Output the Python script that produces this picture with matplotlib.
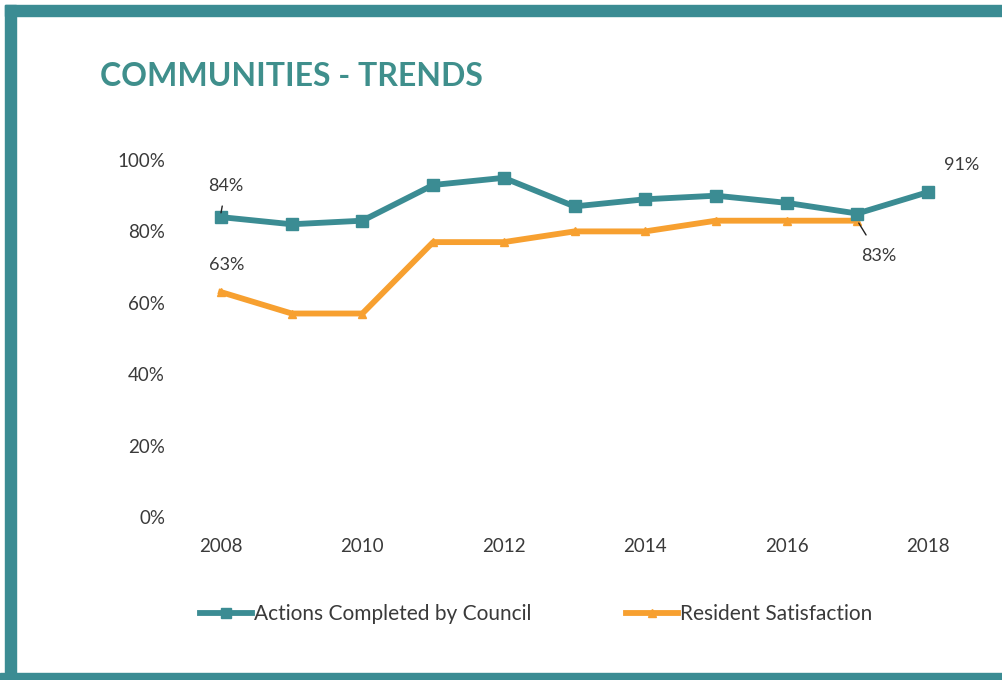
import matplotlib
matplotlib.use("Agg")
import matplotlib.pyplot as plt
from matplotlib.patches import Rectangle

years = [2008, 2009, 2010, 2011, 2012, 2013, 2014, 2015, 2016, 2017, 2018]
actions = [84, 82, 83, 93, 95, 87, 89, 90, 88, 85, 91]
sat_years = [2008, 2009, 2010, 2011, 2012, 2013, 2014, 2015, 2016, 2017]
satisfaction = [63, 57, 57, 77, 77, 80, 80, 83, 83, 83]
y_ticks = [0, 20, 40, 60, 80, 100]
x_ticks = [2008, 2010, 2012, 2014, 2016, 2018]

TEAL = "#3b8c93"
ORANGE = "#f7a030"
TEXT = "#3a3a3a"
FONT = "Lato"

W, H = 1002, 680
fig = plt.figure(figsize=(W / 100, H / 100), dpi=100)
fig.patch.set_facecolor("white")

def fx(px):
    return px / W

def fy(py):
    return 1 - py / H

# frame bars
fig.add_artist(Rectangle((fx(5), fy(16)), 1, 11 / H, transform=fig.transFigure,
                         color=TEAL, zorder=0))
fig.add_artist(Rectangle((fx(5), 0), 11 / W, fy(5), transform=fig.transFigure,
                         color=TEAL, zorder=0))
fig.add_artist(Rectangle((0, 0), 1, 7 / H, transform=fig.transFigure,
                         color=TEAL, zorder=0))

fig.text(fx(100), fy(76), "COMMUNITIES - TRENDS", color="#3f8f8c", fontsize=23,
         fontweight="bold", family=FONT, va="center", ha="left")

# axes: x 190..960 px, y 140..517 px
left, right, top, bottom = 190, 960, 140, 517
ax = fig.add_axes([fx(left), fy(bottom), (right - left) / W, (bottom - top) / H])
px_per_year = (928 - 221) / 10
ax.set_xlim(2008 - (221 - left) / px_per_year, 2018 + (right - 928) / px_per_year)
px_per_pct = (517 - 160) / 100
ax.set_ylim(0, 100 + (160 - top) / px_per_pct)
ax.set_facecolor("none")
for s in ax.spines.values():
    s.set_visible(False)

ax.plot(years, actions, color=TEAL, lw=4.2, marker="s", ms=8.5, zorder=3)
ax.plot(sat_years, satisfaction, color=ORANGE, lw=4.2, marker="^", ms=6, zorder=2)

ax.set_yticks(y_ticks)
ax.set_yticklabels([f"{v}%" for v in y_ticks])
ax.set_xticks(x_ticks)
ax.set_xticklabels([str(v) for v in x_ticks])
ax.tick_params(axis="both", length=0, labelsize=13.5, labelcolor=TEXT)
ax.tick_params(axis="y", pad=18)
ax.tick_params(axis="x", pad=15)
for lab in ax.get_xticklabels() + ax.get_yticklabels():
    lab.set_family(FONT)

# value callouts
ax.annotate(f"{actions[0]}%", xy=(years[0], actions[0] + 1.2), xytext=(years[0] + 0.07, actions[0] + 8.8),
            ha="center", va="center", fontsize=13, color=TEXT, family=FONT,
            arrowprops=dict(arrowstyle="-", color="#222222", lw=1, shrinkA=7, shrinkB=0))
ax.annotate(f"{satisfaction[0]}%", xy=(years[0], satisfaction[0]), xytext=(years[0] + 0.08, satisfaction[0] + 7.5),
            ha="center", va="center", fontsize=13, color=TEXT, family=FONT)
ax.annotate(f"{satisfaction[-1]}%", xy=(sat_years[-1], satisfaction[-1]), xytext=(sat_years[-1] + 0.31, satisfaction[-1] - 10),
            ha="center", va="center", fontsize=13, color=TEXT, family=FONT,
            arrowprops=dict(arrowstyle="-", color="#222222", lw=1, shrinkA=9, shrinkB=2))
ax.annotate(f"{actions[-1]}%", xy=(years[-1], actions[-1]), xytext=(years[-1] + 0.48, actions[-1] + 7.5),
            ha="center", va="center", fontsize=13, color=TEXT, family=FONT)

# legend
leg = fig.legend(["Actions Completed by Council", "Resident Satisfaction"],
                 loc="center", bbox_to_anchor=(fx(536), fy(614)), ncol=2, frameon=False,
                 prop={"family": FONT, "size": 15}, handlelength=2.5, handletextpad=0.1,
                 columnspacing=4.5, labelcolor=TEXT, markerscale=0.9)

fig.savefig("out.png", dpi=100, facecolor="white")
